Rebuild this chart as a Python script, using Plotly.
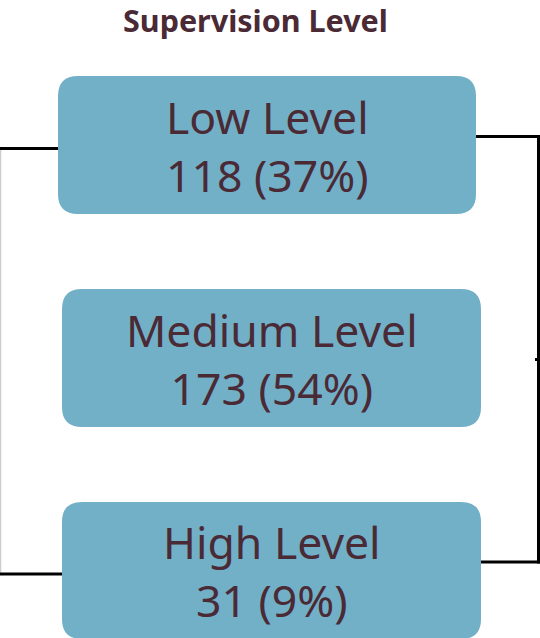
import plotly.graph_objects as go

# ---- data ----
labels = ["Low Level", "Medium Level", "High Level"]
counts = [118, 173, 31]
percents = [37, 54, 9]
title_text = "Supervision Level"

# ---- layout constants (pixel space) ----
W, H = 540, 638
box_x0 = [58, 62, 62]
box_x1 = [476, 481, 481]
box_y0 = [76, 289, 502]
box_y1 = [214, 427, 639]
R = 20
FILL = "#72B0C8"
TXT = "#4A2A35"


def rounded(x0, y0, x1, y1, r):
    return (f"M {x0+r},{y0} L {x1-r},{y0} Q {x1},{y0} {x1},{y0+r} "
            f"L {x1},{y1-r} Q {x1},{y1} {x1-r},{y1} L {x0+r},{y1} "
            f"Q {x0},{y1} {x0},{y1-r} L {x0},{y0+r} Q {x0},{y0} {x0+r},{y0} Z")


fig = go.Figure()
shapes = []
annotations = []

# connector lines
line_k = dict(color="black", width=3)
shapes += [
    dict(type="line", x0=0.5, x1=0.5, y0=148, y1=575, line=dict(color="#cccccc", width=1.5)),
    dict(type="line", x0=0, x1=box_x0[0], y0=148.5, y1=148.5, line=line_k),
    dict(type="line", x0=0, x1=box_x0[2], y0=574, y1=574, line=line_k),
    dict(type="line", x0=box_x1[0], x1=539, y0=136.5, y1=136.5, line=line_k),
    dict(type="line", x0=538.5, x1=538.5, y0=135, y1=563.5, line=line_k),
    dict(type="line", x0=box_x1[2], x1=540, y0=562, y1=562, line=line_k),
    dict(type="line", x0=535, x1=539, y0=359.5, y1=359.5, line=line_k),
]

for i, lab in enumerate(labels):
    shapes.append(dict(type="path", path=rounded(box_x0[i], box_y0[i], box_x1[i], box_y1[i], R),
                       fillcolor=FILL, line=dict(width=0), layer="above"))
    annotations.append(dict(
        x=(box_x0[i] + box_x1[i]) / 2, y=(box_y0[i] + min(box_y1[i], 639)) / 2,
        text=f"{lab}<br>{counts[i]} ({percents[i]}%)",
        showarrow=False, xref="x", yref="y",
        font=dict(family="Noto Sans", size=44.5, color=TXT),
        align="center",
    ))

annotations.append(dict(
    x=255.5, y=20, xref="x", yref="y", text=f"<b>{title_text}</b>", showarrow=False,
    font=dict(family="Noto Sans", size=30.5, color=TXT),
))

fig.add_trace(go.Scatter(x=[0, W], y=[0, H], mode="markers", marker=dict(opacity=0),
                         hoverinfo="skip", showlegend=False))

fig.update_layout(
    width=W, height=H, margin=dict(l=0, r=0, t=0, b=0),
    paper_bgcolor="white", plot_bgcolor="white",
    xaxis=dict(range=[0, W], visible=False, fixedrange=True),
    yaxis=dict(range=[H, 0], visible=False, fixedrange=True),
    shapes=shapes, annotations=annotations, showlegend=False,
)

fig.write_html("out.html")
